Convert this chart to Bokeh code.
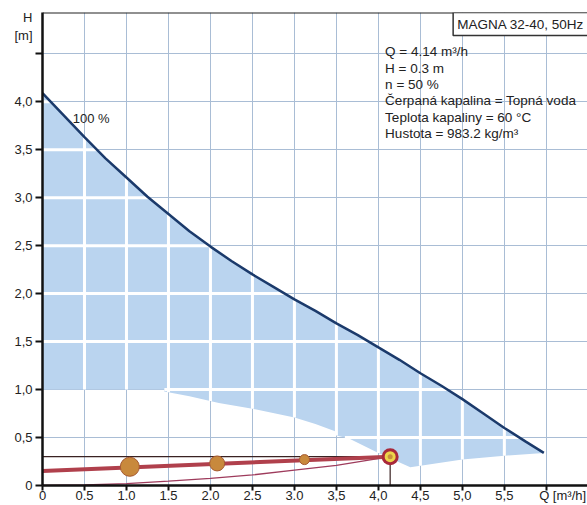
import numpy as np
from bokeh.plotting import figure
from bokeh.models import FixedTicker, Label, Span, Range1d
from bokeh.embed import file_html
from bokeh.resources import INLINE

# ---- data ----
# 100 % pump curve (Q m3/h, H m)
curve_q = [0.0, 0.25, 0.5, 0.75, 1.0, 1.25, 1.5, 1.75, 2.0, 2.25, 2.5, 2.75, 3.0,
           3.25, 3.5, 3.75, 4.0, 4.25, 4.5, 4.75, 5.0, 5.25, 5.5, 5.75, 5.97]
curve_h = [4.09, 3.86, 3.63, 3.41, 3.21, 3.01, 2.83, 2.65, 2.49, 2.34, 2.20, 2.07, 1.94,
           1.82, 1.69, 1.57, 1.44, 1.31, 1.17, 1.04, 0.90, 0.75, 0.60, 0.46, 0.34]
# lower limit of the operating range
min_q = [0.0, 1.45, 1.45, 1.75, 2.1, 2.5, 3.0, 3.25, 3.5, 3.5, 3.65, 4.0, 4.38, 5.0, 5.5, 5.97]
min_h = [1.0, 1.0, 0.98, 0.93, 0.86, 0.80, 0.71, 0.64, 0.56, 0.52, 0.49, 0.34, 0.19, 0.27, 0.31, 0.34]
# control curve (proportional pressure)
ctrl_q = [0.0, 4.14]
ctrl_h = [0.15, 0.30]
# system curve
sys_q = [0.0, 0.5, 1.0, 1.5, 2.0, 2.5, 3.0, 3.5, 4.14]
sys_h = [0.0, 0.005, 0.02, 0.045, 0.075, 0.11, 0.16, 0.21, 0.30]
# points on control curve
pts_q = [1.04, 2.08, 3.12]
pts_h = [0.195, 0.23, 0.27]
# duty point
duty_q = [4.14]
duty_h = [0.30]

NB = "\u00a0"
x_ticks = [0.0, 0.5, 1.0, 1.5, 2.0, 2.5, 3.0, 3.5, 4.0, 4.5, 5.0, 5.5, 6.0]
x_labels = ["0", "0.5", "1.0", "1.5", "2.0", "2.5", "3.0", "3,5", "4,0", "4,5", "5,0", "5,5",
            NB * 9 + "Q [m³/h]"]
y_ticks = [0.0, 0.5, 1.0, 1.5, 2.0, 2.5, 3.0, 3.5, 4.0, 4.5]
# the unit label "H [m]" sits above the 4.5 tick (no number there)
y_labels = ["0", "0,5", "1,0", "1,5", "2,0", "2,5", "3,0", "3,5", "4,0",
            "H\n[m]\n" + NB + "\n" + NB + "\n" + NB]

info_lines = [
    "Q = 4.14 m³/h",
    "H = 0.3 m",
    "n = 50 %",
    "Čerpaná kapalina = Topná voda",
    "Teplota kapaliny = 60 °C",
    "Hustota = 983.2 kg/m³",
]
info_h = [4.52, 4.35, 4.18, 4.01, 3.84, 3.67]

FONT = "Liberation Sans"
TXT = "#222222"

p = figure(width=587, height=505, x_range=Range1d(0, 6.49), y_range=Range1d(0, 4.93),
           output_backend="svg", toolbar_location=None,
           min_border_left=42, min_border_right=0, min_border_top=12, min_border_bottom=20)
p.background_fill_color = "white"
p.border_fill_color = "white"
p.outline_line_color = None

# grid
p.xgrid.ticker = FixedTicker(ticks=x_ticks)
p.ygrid.ticker = FixedTicker(ticks=y_ticks)
for g in (p.xgrid, p.ygrid):
    g.grid_line_color = "#a9bdd5"
    g.grid_line_width = 1

# axes
for ax in (p.xaxis, p.yaxis):
    ax.axis_line_color = "#111111"
    ax.axis_line_width = 2.5
    ax.major_tick_line_color = "#111111"
    ax.major_tick_line_width = 2
    ax.major_tick_in = 0
    ax.minor_tick_line_color = None
    ax.major_label_text_font = FONT
    ax.major_label_text_font_size = "13px"
    ax.major_label_text_color = TXT
p.xaxis.ticker = FixedTicker(ticks=x_ticks)
p.yaxis.ticker = FixedTicker(ticks=y_ticks)
p.xaxis.major_label_overrides = {t: l for t, l in zip(x_ticks, x_labels)}
p.yaxis.major_label_overrides = {t: l for t, l in zip(y_ticks, y_labels)}
p.xaxis.major_tick_out = 5
p.xaxis.major_label_standoff = -3
p.yaxis.major_tick_out = 7
p.yaxis.major_label_standoff = 3

# operating area
poly_q = list(curve_q) + list(reversed(min_q))
poly_h = list(curve_h) + list(reversed(min_h))
p.patch(poly_q, poly_h, fill_color="#bad4ef", line_color=None)

# white grid lines inside the operating area
qq = np.linspace(0, curve_q[-1], 3000)
up = np.interp(qq, curve_q, curve_h)
lo = np.interp(qq, min_q, min_h)
x0s, y0s, x1s, y1s = [], [], [], []
for gx in x_ticks[1:]:
    if gx < curve_q[-1]:
        x0s.append(gx); x1s.append(gx)
        y0s.append(float(np.interp(gx, min_q, min_h)))
        y1s.append(float(np.interp(gx, curve_q, curve_h)))
for gy in y_ticks[1:]:
    inside = (lo < gy) & (up > gy)
    idx = np.flatnonzero(np.diff(np.concatenate([[0], inside.astype(int), [0]])))
    for a, b in zip(idx[::2], idx[1::2]):
        x0s.append(float(qq[a])); x1s.append(float(qq[b - 1]))
        y0s.append(gy); y1s.append(gy)
p.segment(x0s, y0s, x1s, y1s, line_color="white", line_width=3)

# 100 % curve
p.line(curve_q, curve_h, line_color="#1b3a6b", line_width=2.5)

# system curve, duty lines, control curve
p.line(sys_q, sys_h, line_color="#9e3b5c", line_width=1.3)
p.line([0, duty_q[0]], [duty_h[0], duty_h[0]], line_color="#3a2222", line_width=1.2)
p.line([duty_q[0], duty_q[0]], [0, duty_h[0]], line_color="#3a2222", line_width=1.2)
p.line(ctrl_q, ctrl_h, line_color="#b0404c", line_width=4)

p.scatter(pts_q, pts_h, size=[19, 15, 10], fill_color="#c8893c", line_color="#a65a32", line_width=1)
p.scatter(duty_q, duty_h, size=17, fill_color="#a8283a", line_color=None)
p.scatter(duty_q, duty_h, size=11, fill_color="#ecd44a", line_color=None)
p.scatter(duty_q, duty_h, size=5, fill_color="#c88f3c", line_color=None)

# top frame line
p.add_layout(Span(location=4.93, dimension="width", line_color="#222222", line_width=2))

# texts inside the frame
p.add_layout(Label(x=0.36, y=3.83, text="100 %", text_align="left", text_baseline="middle",
                   text_font=FONT, text_font_size="13px", text_color=TXT))
p.add_layout(Label(x=4.89, y=4.93, text="MAGNA 32-40, 50Hz", text_align="left", text_baseline="top",
                   text_font=FONT, text_font_size="13.5px", text_color=TXT,
                   border_line_color="#333333", border_line_width=1.5,
                   background_fill_color="white", padding=4))
for t, h in zip(info_lines, info_h):
    p.add_layout(Label(x=4.08, y=h, text=t, text_align="left", text_baseline="middle",
                       text_font=FONT, text_font_size="13.5px", text_color=TXT))

open("out.html", "w").write(file_html(p, INLINE))
